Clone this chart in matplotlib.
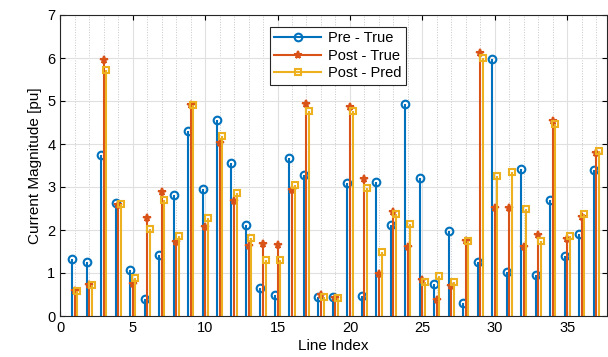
import numpy as np
import matplotlib
matplotlib.use("Agg")
import matplotlib.pyplot as plt
from matplotlib.lines import Line2D
from matplotlib.legend_handler import HandlerLine2D

plt.rcParams['font.family'] = ['Liberation Sans', 'DejaVu Sans']

# line index and current magnitudes [pu]
line_idx = np.arange(1, 38)
pre_true = [1.33, 1.25, 3.75, 2.62, 1.08, 0.40, 1.42, 2.82, 4.30, 2.95,
            4.55, 3.55, 2.12, 0.65, 0.48, 3.67, 3.27, 0.45, 0.45, 3.10,
            0.47, 3.12, 2.12, 4.93, 3.22, 0.75, 1.98, 0.31, 1.25, 5.97,
            1.03, 3.42, 0.95, 2.70, 1.40, 1.91, 3.39]
post_true = [0.58, 0.72, 5.95, 2.58, 0.75, 2.27, 2.88, 1.72, 4.90, 2.07,
             4.03, 2.68, 1.62, 1.68, 1.65, 2.93, 4.92, 0.48, 0.43, 4.87,
             3.18, 0.98, 2.42, 1.60, 0.83, 0.37, 0.70, 1.75, 6.12, 2.52,
             2.52, 1.61, 1.88, 4.54, 1.80, 2.30, 3.80]
post_pred = [0.58, 0.73, 5.73, 2.60, 0.88, 2.03, 2.70, 1.85, 4.90, 2.27,
             4.18, 2.86, 1.82, 1.30, 1.30, 3.05, 4.77, 0.45, 0.43, 4.77,
             2.98, 1.48, 2.38, 2.15, 0.80, 0.92, 0.80, 1.75, 5.99, 3.26,
             3.34, 2.48, 1.75, 4.47, 1.86, 2.37, 3.84]

c_blue = '#0072BD'
c_red = '#D95319'
c_yel = '#EDB120'

# legend like matlab: line with marker only at the right end
class EndMarker(HandlerLine2D):
    def get_xdata(self, legend, xdescent, ydescent, width, height, fontsize):
        xdata = np.array([-xdescent, -xdescent + width])
        return xdata, np.array([-xdescent + width])

fig = plt.figure(figsize=(6.08, 3.57), dpi=100)
ax = fig.add_axes([60.3/608, 1 - 316/357, (607 - 60.3)/608, (316 - 15)/357])

series = [
    (line_idx - 0.18, pre_true, c_blue, 'o', 5.5, 'Pre - True', False),
    (line_idx, post_true, c_red, '*', 5.5, 'Post - True', True),
    (line_idx + 0.18, post_pred, c_yel, 's', 4.8, 'Post - Pred', False),
]
handles = []
for x, y, col, mk, ms, lab, filled in series:
    ml, sl, bl = ax.stem(x, y, basefmt=' ')
    fc = col if filled else 'none'
    plt.setp(sl, color=col, linewidth=1.5)
    plt.setp(ml, color=col, marker=mk, markersize=ms, markeredgewidth=1.5,
             markerfacecolor=fc)
    handles.append(Line2D([], [], color=col, linewidth=1.5, marker=mk,
                          markersize=ms, markeredgewidth=1.5,
                          markerfacecolor=fc, label=lab))

ax.set_xlim(0, 37.75)
ax.set_ylim(0, 7)
ax.set_xticks(np.arange(0, 36, 5))
ax.set_xticks(np.arange(0, 38, 1), minor=True)
ax.set_yticks(np.arange(0, 8, 1))
ax.tick_params(which='both', direction='in', top=True, right=True, labelsize=10.5)
ax.tick_params(which='minor', length=0)
ax.grid(which='major', color='#e0e0e0', linewidth=0.8)
ax.grid(which='minor', axis='x', color='#c8c8c8', linestyle=':', linewidth=0.7)
ax.set_axisbelow(True)
for s in ax.spines.values():
    s.set_color('#262626')
    s.set_linewidth(0.8)

ax.set_xlabel('Line Index', fontsize=11, labelpad=3)
ax.set_ylabel('Current Magnitude [pu]', fontsize=11)

leg = ax.legend(handles=handles, handler_map={Line2D: EndMarker()},
                loc='upper left', bbox_to_anchor=(0.37, 0.985), fontsize=10.5,
                fancybox=False, edgecolor='#262626', framealpha=1,
                handlelength=3.2, handletextpad=0.5, borderpad=0.3,
                labelspacing=0.25)
leg.get_frame().set_linewidth(0.8)

fig.savefig('out.png', dpi=100)
